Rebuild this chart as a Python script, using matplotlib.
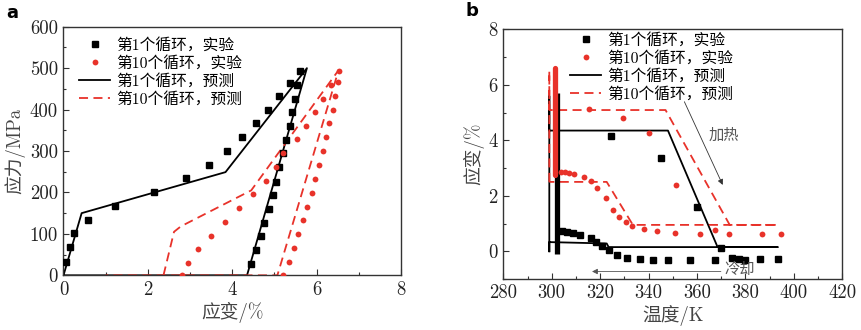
import matplotlib
matplotlib.use("Agg")
import matplotlib.pyplot as plt
from matplotlib.ticker import MultipleLocator

plt.rcParams['font.family'] = ['cmr10', 'Noto Sans CJK SC', 'DejaVu Sans']
plt.rcParams['axes.unicode_minus'] = False
plt.rcParams['mathtext.fontset'] = 'cm'

# ---------------- Panel a data ----------------
a_exp1_strain = [0.05, 0.15, 0.26, 0.58, 1.23, 2.14, 2.90, 3.44, 3.88, 4.24, 4.56, 4.85, 5.12, 5.37, 5.61,
                 5.53, 5.49, 5.42, 5.36, 5.27, 5.20, 5.12, 5.04, 4.96, 4.86, 4.76, 4.67, 4.56, 4.44]
a_exp1_stress = [33, 68, 101, 133, 168, 200, 234, 267, 301, 333, 367, 400, 432, 465, 492,
                 460, 426, 393, 360, 327, 294, 261, 226, 194, 161, 127, 94, 61, 27]
a_exp10_strain = [2.82, 2.94, 3.18, 3.50, 3.83, 4.17, 4.48, 4.79, 5.04, 5.20, 5.53, 5.74, 5.95, 6.14, 6.34, 6.54,
                  6.51, 6.44, 6.38, 6.30, 6.22, 6.14, 6.06, 5.97, 5.88, 5.78, 5.68, 5.57, 5.46, 5.34, 5.20]
a_exp10_stress = [0, 29, 63, 96, 129, 162, 196, 228, 262, 294, 328, 360, 394, 426, 460, 492,
                  467, 433, 400, 367, 333, 300, 266, 232, 199, 166, 133, 100, 67, 33, 0]
a_pred1_strain = [0.0, 0.43, 3.84, 5.77, 4.35, 0.0]
a_pred1_stress = [0, 150, 249, 500, 0, 0]
a_pred10_strain = [2.37, 2.62, 2.78, 4.45, 6.52, 5.07, 1.0]
a_pred10_stress = [0, 105, 118, 205, 495, 0, 0]

# ---------------- Panel b data ----------------
b_exp1_T = [324.5, 345.3, 359.8, 370.0,
            304.1, 306.4, 308.6, 311.7, 316.1, 318.1, 320.9, 323.6, 327.1, 331.2, 336.3, 341.7,
            348.1, 356.9, 367.4, 374.3, 377.3, 379.7, 385.9, 393.3]
b_exp1_eps = [4.17, 3.35, 1.61, 0.13,
              0.73, 0.69, 0.67, 0.58, 0.46, 0.34, 0.18, 0.05, -0.13, -0.24, -0.27, -0.30,
              -0.33, -0.33, -0.33, -0.25, -0.28, -0.30, -0.28, -0.28]
b_exp1_bar_T = [302.3, 302.3]
b_exp1_bar_eps = [-0.1, 5.7]
b_exp10_T = [315.5, 329.6, 340.2, 351.2, 367.4,
             303.8, 305.5, 307.0, 309.3, 313.5, 316.3, 318.9, 322.4, 325.3, 327.9, 330.7, 333.3,
             337.9, 343.5, 351.0, 361.1, 373.2, 387.0, 394.7]
b_exp10_eps = [5.12, 4.80, 4.27, 2.39, 0.78,
               2.87, 2.86, 2.82, 2.78, 2.68, 2.53, 2.29, 1.93, 1.47, 1.22, 1.04, 0.90,
               0.79, 0.73, 0.67, 0.62, 0.61, 0.61, 0.61]
b_exp10_bar_T = [301.5, 301.5]
b_exp10_bar_eps = [2.75, 6.6]
b_pred1_T = [299, 299, 299, 348, 368.5, 393.3, 323.5, 322.7, 299, 299]
b_pred1_eps = [0, 5.6, 4.35, 4.35, 0.15, 0.15, 0.15, 0.28, 0.33, 0]
b_pred10_T = [299, 299, 299, 347, 373.5, 393.3, 333.5, 322.7, 299]
b_pred10_eps = [2.5, 6.5, 5.09, 5.09, 0.95, 0.95, 0.95, 2.5, 2.5]

labels = ['第1个循环，实验', '第10个循环，实验', '第1个循环，预测', '第10个循环，预测']

W, H = 862, 330
fig = plt.figure(figsize=(W / 100, H / 100), dpi=100)

def px_axes(l, t, r, b):
    return fig.add_axes([l / W, 1 - b / H, (r - l) / W, (b - t) / H])

axA = px_axes(63.5, 26.7, 401, 275.3)
axB = px_axes(503.3, 29.3, 842.3, 279)

red = '#e8322a'
lblcol = '#444444'
tickcol = '#222222'
ms_sq = 3.8
ms_ci = 4.2
lw = 1.3
dash = (5, 3)

# Panel a
axA.plot(a_exp1_strain, a_exp1_stress, 's', color='black', ms=ms_sq, label=labels[0], zorder=3)
axA.plot(a_exp10_strain, a_exp10_stress, 'o', color=red, ms=ms_ci, mec='none', label=labels[1], zorder=3)
axA.plot(a_pred1_strain, a_pred1_stress, '-', color='black', lw=lw, label=labels[2], zorder=2)
axA.plot(a_pred10_strain, a_pred10_stress, '--', color=red, lw=lw, dashes=dash, label=labels[3], zorder=2)
axA.set_xlim(0, 8)
axA.set_ylim(0, 600)
axA.xaxis.set_major_locator(MultipleLocator(2))
axA.xaxis.set_minor_locator(MultipleLocator(1))
axA.yaxis.set_major_locator(MultipleLocator(100))
axA.yaxis.set_minor_locator(MultipleLocator(50))
axA.set_xlabel('应变/%', fontsize=13.5, color=lblcol, labelpad=2)
axA.set_ylabel('应力/MPa', fontsize=13.5, color=lblcol, labelpad=3)

# Panel b
axB.plot(b_exp1_bar_T, b_exp1_bar_eps, '-', color='black', lw=3.8, solid_capstyle='butt', zorder=3)
axB.plot(b_exp10_bar_T, b_exp10_bar_eps, '-', color=red, lw=3.8, solid_capstyle='round', zorder=3)
axB.plot(b_exp1_T, b_exp1_eps, 's', color='black', ms=ms_sq, label=labels[0], zorder=3)
axB.plot(b_exp10_T, b_exp10_eps, 'o', color=red, ms=ms_ci, mec='none', label=labels[1], zorder=3)
axB.plot(b_pred1_T, b_pred1_eps, '-', color='black', lw=lw, label=labels[2], zorder=2)
axB.plot(b_pred10_T, b_pred10_eps, '--', color=red, lw=lw, dashes=dash, label=labels[3], zorder=2)
axB.set_xlim(280, 420)
axB.set_ylim(-1, 8)
axB.xaxis.set_major_locator(MultipleLocator(20))
axB.xaxis.set_minor_locator(MultipleLocator(10))
axB.yaxis.set_major_locator(MultipleLocator(2))
axB.yaxis.set_minor_locator(MultipleLocator(1))
axB.set_xlabel('温度/K', fontsize=13.5, color=lblcol, labelpad=2)
axB.set_ylabel('应变/%', fontsize=13.5, color=lblcol, labelpad=3)

axB.annotate('', xy=(371.1, 2.3), xytext=(354.3, 5.48),
             arrowprops=dict(arrowstyle='-|>', color='#333333', lw=0.6, mutation_scale=8))
axB.text(371.2, 4.17, '加热', fontsize=11, color='#555555', ha='center', va='center')
axB.annotate('', xy=(315.5, -0.73), xytext=(371.0, -0.73),
             arrowprops=dict(arrowstyle='-|>', color='#555555', lw=0.6, mutation_scale=8))
axB.text(377.8, -0.66, '冷却', fontsize=11, color='#555555', ha='center', va='center')

for ax in (axA, axB):
    ax.tick_params(which='both', direction='in', top=False, right=False, colors='#333333',
                   labelcolor=tickcol, labelsize=13.5)
    ax.tick_params(which='major', length=4.5, width=0.8, pad=4)
    ax.tick_params(which='minor', length=2.5, width=0.8)
    for s in ax.spines.values():
        s.set_color('#333333')
        s.set_linewidth(1.0)

legkw = dict(frameon=False, fontsize=11.3, handlelength=2.0, handletextpad=0.35,
             labelspacing=0.2, borderpad=0, borderaxespad=0, loc='upper left',
             bbox_transform=fig.transFigure)
axA.legend(bbox_to_anchor=(79 / W, 1 - 38 / H), **legkw)
axB.legend(bbox_to_anchor=(570 / W, 1 - 33 / H), **legkw)

fig.text(12 / W, 1 - 13 / H, 'a', fontsize=13, fontweight='bold', family='DejaVu Sans',
         ha='center', va='center')
fig.text(472 / W, 1 - 11 / H, 'b', fontsize=13, fontweight='bold', family='DejaVu Sans',
         ha='center', va='center')

fig.savefig('out.png', dpi=100)
